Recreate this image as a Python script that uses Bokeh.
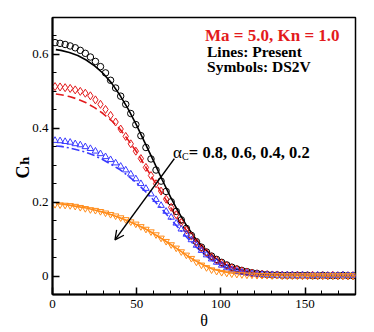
from bokeh.plotting import figure
from bokeh.models import Range1d, FixedTicker, Label, Arrow, OpenHead
from bokeh.embed import file_html
from bokeh.resources import INLINE

# ---------------- data ----------------
THETA_LINE = [2, 5, 10, 15, 20, 25, 30, 35, 40, 45, 50, 55, 60, 65, 70, 75, 80, 85,
              90, 95, 100, 105, 110, 115, 120, 125, 130, 135, 140, 145, 150, 155, 160,
              165, 170, 175, 180]
LINE_08 = [0.613, 0.611, 0.605, 0.597, 0.585, 0.569, 0.549, 0.523, 0.490, 0.452, 0.408,
           0.360, 0.312, 0.262, 0.215, 0.172, 0.134, 0.101, 0.075, 0.054, 0.038, 0.026,
           0.018, 0.012, 0.008, 0.005, 0.004, 0.003, 0.002, 0.002, 0.002, 0.001, 0.001,
           0.001, 0.001, 0.001, 0.001]
LINE_06 = [0.493, 0.491, 0.486, 0.479, 0.469, 0.456, 0.440, 0.421, 0.398, 0.368, 0.336,
           0.298, 0.260, 0.224, 0.187, 0.152, 0.121, 0.094, 0.070, 0.051, 0.036, 0.025,
           0.017, 0.011, 0.008, 0.005, 0.004, 0.003, 0.002, 0.002, 0.002, 0.001, 0.001,
           0.001, 0.001, 0.001, 0.001]
LINE_04 = [0.352, 0.351, 0.347, 0.341, 0.335, 0.326, 0.315, 0.302, 0.288, 0.271, 0.252,
           0.230, 0.206, 0.181, 0.155, 0.129, 0.104, 0.080, 0.059, 0.042, 0.029, 0.019,
           0.012, 0.008, 0.005, 0.004, 0.003, 0.002, 0.002, 0.002, 0.002, 0.001, 0.001,
           0.001, 0.001, 0.001, 0.001]
LINE_02 = [0.196, 0.195, 0.192, 0.188, 0.184, 0.179, 0.173, 0.166, 0.158, 0.149, 0.139,
           0.128, 0.115, 0.101, 0.086, 0.071, 0.055, 0.041, 0.029, 0.019, 0.013, 0.009,
           0.006, 0.004, 0.003, 0.002, 0.002, 0.002, 0.001, 0.001, 0.001, 0.001, 0.001,
           0.001, 0.001, 0.001, 0.001]

THETA_DS2V = [1.5, 4.5, 7.5, 10.5, 13.5, 16.5, 19.5, 22.5, 25.5, 28.5,
              31.5, 34.5, 37.5, 40.5, 43.5, 46.5, 49.5, 52.5, 55.5, 58.5,
              61.5, 64.5, 67.5, 70.5, 73.5, 76.5, 79.5, 82.5, 85.5, 88.5,
              91.5, 94.5, 97.5, 100.5, 103.5, 106.5, 109.5, 112.5, 115.5, 118.5,
              121.5, 124.5, 127.5, 130.5, 133.5, 136.5, 139.5, 142.5, 145.5, 148.5,
              151.5, 154.5, 157.5, 160.5, 163.5, 166.5, 169.5, 172.5, 175.5, 178.5]
DS2V_08 = [0.632, 0.630, 0.627, 0.623, 0.618, 0.611, 0.603, 0.593, 0.581, 0.567,
           0.550, 0.530, 0.509, 0.487, 0.465, 0.440, 0.410, 0.380, 0.348, 0.317,
           0.287, 0.257, 0.229, 0.201, 0.175, 0.152, 0.129, 0.110, 0.093, 0.078,
           0.065, 0.054, 0.045, 0.037, 0.030, 0.024, 0.019, 0.015, 0.012, 0.009,
           0.007, 0.005, 0.004, 0.003, 0.003, 0.002, 0.002, 0.002, 0.002, 0.002,
           0.002, 0.001, 0.001, 0.002, 0.001, 0.001, 0.001, 0.002, 0.001, 0.001]
DS2V_06 = [0.513, 0.512, 0.510, 0.508, 0.504, 0.500, 0.495, 0.488, 0.477, 0.465,
           0.451, 0.435, 0.417, 0.398, 0.378, 0.358, 0.338, 0.318, 0.294, 0.272,
           0.250, 0.230, 0.208, 0.186, 0.166, 0.145, 0.125, 0.108, 0.091, 0.076,
           0.063, 0.052, 0.043, 0.035, 0.028, 0.022, 0.018, 0.014, 0.011, 0.008,
           0.006, 0.005, 0.004, 0.003, 0.003, 0.002, 0.002, 0.002, 0.002, 0.001,
           0.001, 0.002, 0.001, 0.001, 0.001, 0.002, 0.001, 0.001, 0.001, 0.001]
DS2V_04 = [0.367, 0.366, 0.364, 0.362, 0.358, 0.355, 0.350, 0.345, 0.338, 0.331,
           0.323, 0.315, 0.306, 0.297, 0.287, 0.276, 0.263, 0.250, 0.237, 0.222,
           0.207, 0.191, 0.175, 0.159, 0.143, 0.127, 0.113, 0.098, 0.083, 0.069,
           0.057, 0.046, 0.037, 0.029, 0.022, 0.017, 0.013, 0.010, 0.008, 0.006,
           0.005, 0.004, 0.003, 0.003, 0.002, 0.002, 0.002, 0.002, 0.001, 0.002,
           0.001, 0.001, 0.002, 0.001, 0.001, 0.001, 0.001, 0.002, 0.001, 0.001]
DS2V_02 = [0.194, 0.193, 0.192, 0.191, 0.189, 0.186, 0.183, 0.180, 0.178, 0.175,
           0.171, 0.167, 0.163, 0.158, 0.153, 0.147, 0.141, 0.134, 0.127, 0.120,
           0.112, 0.103, 0.094, 0.085, 0.076, 0.066, 0.057, 0.048, 0.038, 0.030,
           0.023, 0.017, 0.013, 0.010, 0.008, 0.006, 0.005, 0.004, 0.003, 0.003,
           0.002, 0.002, 0.002, 0.001, 0.002, 0.001, 0.001, 0.001, 0.001, 0.001,
           0.001, 0.001, 0.001, 0.001, 0.001, 0.001, 0.001, 0.001, 0.001, 0.001]

X_TICKS = [0, 50, 100, 150]
X_MINOR = [10, 20, 30, 40, 60, 70, 80, 90, 110, 120, 130, 140, 160, 170]
Y_TICKS = [0, 0.2, 0.4, 0.6]
Y_TICK_LABELS = ["0", "0.2", "0.4", "0.6"]
Y_MINOR = [-0.05, 0.05, 0.1, 0.15, 0.25, 0.3, 0.35, 0.45, 0.5, 0.55, 0.65]

FONT = "Liberation Serif, Times New Roman, DejaVu Serif, serif"
BLACK = "#000000"
RED = "#e31a1c"
BLUE = "#3a3aff"
ORANGE = "#ff8c1a"

# ---------------- figure ----------------
p = figure(width=374, height=332, x_range=Range1d(0, 180), y_range=Range1d(-0.05, 0.7),
           output_backend="svg", toolbar_location=None,
           min_border_left=49, min_border_right=19, min_border_top=17, min_border_bottom=38)
p.grid.visible = False
p.outline_line_color = "black"
p.outline_line_width = 1.5
p.background_fill_color = "white"
p.border_fill_color = "white"

p.xaxis.ticker = FixedTicker(ticks=X_TICKS, minor_ticks=X_MINOR)
p.yaxis.ticker = FixedTicker(ticks=Y_TICKS, minor_ticks=Y_MINOR)
p.yaxis.major_label_overrides = dict(zip(Y_TICKS, Y_TICK_LABELS))
for ax in (p.xaxis, p.yaxis):
    ax.axis_line_width = 2
    ax.axis_line_color = "black"
    ax.major_tick_in = 7
    ax.major_tick_out = 0
    ax.minor_tick_in = 4
    ax.minor_tick_out = 0
    ax.major_tick_line_width = 1.5
    ax.minor_tick_line_width = 1
    ax.major_tick_line_color = "black"
    ax.minor_tick_line_color = "black"
    ax.major_label_text_font = FONT
    ax.major_label_text_font_size = "13px"
    ax.major_label_text_color = "black"
    ax.axis_label_text_font = FONT
    ax.axis_label_text_color = "black"
p.xaxis.major_label_standoff = 5
p.yaxis.major_label_standoff = 4

# axis titles
p.xaxis.axis_label = "\u03b8"
p.xaxis.axis_label_text_font_size = "16px"
p.xaxis.axis_label_text_font_style = "normal"
p.xaxis.axis_label_standoff = 1

p.yaxis.axis_label = "C\u2095"
p.yaxis.axis_label_orientation = 1.5708
p.yaxis.axis_label_text_font_size = "18px"
p.yaxis.axis_label_text_font_style = "bold"
p.yaxis.axis_label_standoff = 6

# lines
p.line(THETA_LINE, LINE_08, line_color=BLACK, line_width=1.6)
p.line(THETA_LINE, LINE_06, line_color=RED, line_width=1.6, line_dash="8 4")
p.line(THETA_LINE, LINE_04, line_color=BLUE, line_width=1.6, line_dash="8 3 2 3")
p.line(THETA_LINE, LINE_02, line_color=ORANGE, line_width=1.6)

# symbols
p.scatter(THETA_DS2V, DS2V_08, marker="circle", size=6.5, line_color=BLACK,
          fill_color=None, line_width=1)
p.scatter(THETA_DS2V, DS2V_06, marker="diamond", size=8, line_color=RED,
          fill_color=None, line_width=1)
p.scatter(THETA_DS2V, DS2V_04, marker="triangle", size=6.5, line_color=BLUE,
          fill_color=None, line_width=1)
p.scatter(THETA_DS2V, DS2V_02, marker="inverted_triangle", size=6.5, line_color=ORANGE,
          fill_color=None, line_width=1)

# annotations
p.add_layout(Arrow(end=OpenHead(size=9, line_width=1.3, line_color="black"),
                   x_start=72.4, y_start=0.318, x_end=37.1, y_end=0.098,
                   line_width=1.5, line_color="black"))


def lab(x, y, text, size, color="black", bold=True, align="left"):
    p.add_layout(Label(x=x, y=y, text=text, text_font=FONT, text_font_size=size,
                       text_color=color, text_font_style="bold" if bold else "normal",
                       text_align=align, text_baseline="alphabetic"))


lab(90.6, 0.651, "Ma = 5.0, Kn = 1.0", "17px", color=RED)
lab(91.8, 0.609, "Lines: Present", "15.5px")
lab(91.8, 0.567, "Symbols: DS2V", "15.5px")
lab(71.6, 0.335, "\u03b1", "17px", bold=False)
lab(77.0, 0.323, "C", "10px", bold=False)
lab(81.0, 0.335, "= 0.8, 0.6, 0.4, 0.2", "16.5px")

open("out.html", "w").write(file_html(p, INLINE))
